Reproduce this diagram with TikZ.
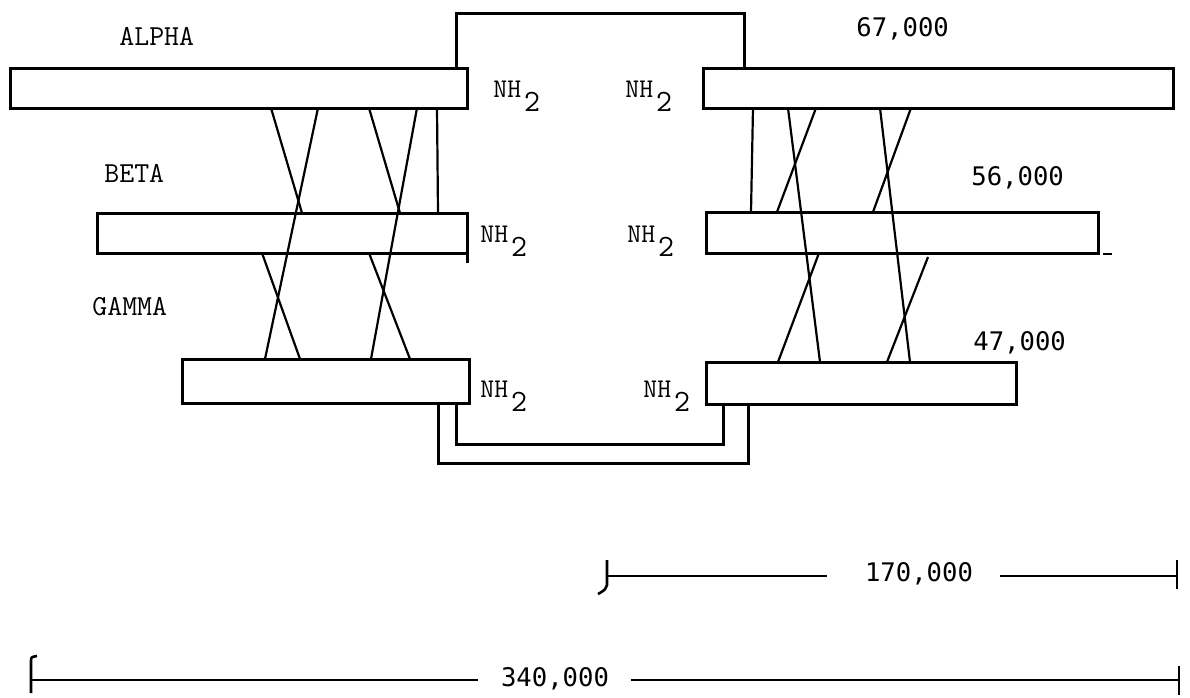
\documentclass[tikz,border=0pt]{standalone}
\usepackage{fontspec}
\newfontfamily\numfont{DejaVu Sans Mono}
\begin{document}
\begin{tikzpicture}[x=0.5pt,y=-0.5pt,
  chainbox/.style={draw, line width=1.5pt, rectangle, inner sep=0pt, outer sep=0pt, anchor=north west},
  link/.style={line width=1.1pt},
  bracket/.style={line width=1.5pt},
  lbl/.style={font=\ttfamily\fontsize{14.5}{15}\selectfont, inner sep=0pt, anchor=base west},
  nh/.style={font=\ttfamily\fontsize{13.5}{14}\selectfont, inner sep=0pt, anchor=base west},
  num/.style={font=\numfont\fontsize{12.8}{14}\selectfont, inner sep=0pt},
  bar/.style={line width=1.3pt}]
\useasboundingbox (0,0) rectangle (1190,697);

% chains
\node[chainbox, minimum width=228.5pt, minimum height=20pt] (aL) at (10,68) {};
\node[chainbox, minimum width=235pt, minimum height=20pt] (aR) at (703,68) {};
\node[chainbox, minimum width=185pt, minimum height=20pt] (bL) at (97,213) {};
\node[chainbox, minimum width=196pt, minimum height=20.5pt] (bR) at (706,212) {};
\node[chainbox, minimum width=143.5pt, minimum height=22pt] (gL) at (182,359) {};
\node[chainbox, minimum width=155pt, minimum height=21pt] (gR) at (706,362) {};

% small marks
\draw[bracket] (bL.south east) -- ++(0,10);
\draw[line width=0.8pt] (1103,254) -- (1112,254);

% labels
\node[lbl] (alpha) at (119,45) {ALPHA};
\node[lbl] (beta) at (104,182) {BETA};
\node[lbl] (gamma) at (92,315) {GAMMA};
\node[num, anchor=base west] (m67) at (856,36) {67,000};
\node[num, anchor=base west] (m56) at (971,185) {56,000};
\node[num, anchor=base west] (m47) at (973,350) {47,000};

\newcommand\nhtwo{NH\hspace{1.5pt}\raisebox{-7pt}{\fontsize{15.5}{16}\selectfont 2}}
\node[nh] (nhaL) at (493,97) {\nhtwo};
\node[nh] (nhaR) at (625,97) {\nhtwo};
\node[nh] (nhbL) at (480,242) {\nhtwo};
\node[nh] (nhbR) at (627,242) {\nhtwo};
\node[nh] (nhgL) at (480,397) {\nhtwo};
\node[nh] (nhgR) at (643,397) {\nhtwo};

% links, left
\draw[link] (271,0 |- aL.south) -- (302,0 |- bL.north);
\draw[link] (369,0 |- aL.south) -- (400,0 |- bL.north);
\draw[link] (437,0 |- aL.south) -- (438,0 |- bL.north);
\draw[link] (318,0 |- aL.south) -- (265,0 |- gL.north);
\draw[link] (417,0 |- aL.south) -- (371,0 |- gL.north);
\draw[link] (262,0 |- bL.south) -- (300,0 |- gL.north);
\draw[link] (369,0 |- bL.south) -- (410,0 |- gL.north);

% links, right
\draw[link] (753,0 |- aR.south) -- (751,0 |- bR.north);
\draw[link] (816,0 |- aR.south) -- (777,0 |- bR.north);
\draw[link] (911,0 |- aR.south) -- (873,0 |- bR.north);
\draw[link] (788,0 |- aR.south) -- (820,0 |- gR.north);
\draw[link] (880,0 |- aR.south) -- (910,0 |- gR.north);
\draw[link] (819,0 |- bR.south) -- (778,0 |- gR.north);
\coordinate (free) at (928,257);
\draw[link] (free) -- (887,0 |- gR.north);

% brackets
\coordinate (t1) at (456,13);
\coordinate (t2) at (744,13);
\draw[bracket] (456,0 |- aL.north) -- (t1) -- (t2) -- (744,0 |- aR.north);
\coordinate (i1) at (456,444);
\coordinate (i2) at (723,444);
\draw[bracket] (456,0 |- gL.south) -- (i1) -- (i2) -- (723,0 |- gR.south);
\coordinate (o1) at (438,463);
\coordinate (o2) at (748,463);
\draw[bracket] (438,0 |- gL.south) -- (o1) -- (o2) -- (748,0 |- gR.south);

% scale bar 170,000
\coordinate (s1a) at (607,576);
\coordinate (s1b) at (827,576);
\coordinate (s1c) at (1000,576);
\coordinate (s1d) at (1177,576);
\node[num, anchor=base] (n170) at (919,581) {170,000};
\draw[bar] (s1a) -- (s1b);
\draw[bar] (s1c) -- (s1d);
\draw[bar] (607,560) -- (607,585) .. controls (605,590) .. (598,594);
\draw[bar] (1177,560) -- (1177,589);

% scale bar 340,000
\coordinate (s2a) at (31,680);
\coordinate (s2b) at (478,680);
\coordinate (s2c) at (631,680);
\coordinate (s2d) at (1179,680);
\node[num, anchor=base] (n340) at (555,686) {340,000};
\draw[bar] (s2a) -- (s2b);
\draw[bar] (s2c) -- (s2d);
\draw[bar] (31,693) -- (31,662) .. controls (31,657) .. (37,656);
\draw[bar] (1179,666) -- (1179,695);
\end{tikzpicture}
\end{document}
